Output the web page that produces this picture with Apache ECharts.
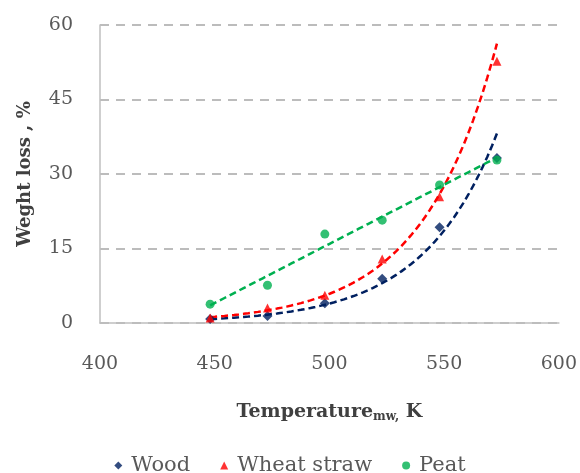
<!DOCTYPE html>
<html><head><meta charset="utf-8">
<script src="https://cdn.jsdelivr.net/npm/echarts@6/dist/echarts.min.js"></script>
<style>html,body{margin:0;padding:0;background:#fff}#c{width:580px;height:473px}</style>
</head><body><div id="c"></div>
<script>
const temps = [448, 473, 498, 523, 548, 573];
const wood = [0.8, 1.4, 4.0, 8.9, 19.3, 33.2];
const wheat = [1.0, 3.0, 5.6, 12.9, 25.4, 52.7];
const peat = [3.8, 7.6, 17.9, 20.7, 27.8, 32.8];
const xTicks = [400, 450, 500, 550, 600];
const yTicks = [0, 15, 30, 45, 60];

function linFit(xs, ys) {
  const n = xs.length;
  const mx = xs.reduce((a,b)=>a+b,0)/n, my = ys.reduce((a,b)=>a+b,0)/n;
  let sxy=0, sxx=0;
  for (let i=0;i<n;i++){sxy+=(xs[i]-mx)*(ys[i]-my);sxx+=(xs[i]-mx)**2;}
  const b = sxy/sxx; return {a: my-b*mx, b};
}
function trend(xs, ys, kind) {
  const lys = kind==='exp' ? ys.map(Math.log) : ys;
  const f = linFit(xs, lys);
  const out = [];
  const x0 = xs[0], x1 = xs[xs.length-1], N = 60;
  for (let i=0;i<=N;i++){
    const x = x0 + (x1-x0)*i/N;
    const v = f.a + f.b*x;
    out.push([x, kind==='exp' ? Math.exp(v) : v]);
  }
  return out;
}
const pts = arr => temps.map((t,i)=>[t, arr[i]]);

const C = {wood:'#002060', wheat:'#FF0000', peat:'#00B050'};
const font = 'DejaVu Serif';
const chart = echarts.init(document.getElementById('c'));
chart.setOption({
  animation:false,
  textStyle:{fontFamily:font},
  grid:{left:100, right:20, top:25, bottom:150},
  xAxis:{type:'value', min:xTicks[0], max:xTicks[xTicks.length-1], interval:50,
    axisLine:{show:true, lineStyle:{color:'#BFBFBF', width:1.5}},
    axisTick:{show:false}, splitLine:{show:false},
    axisLabel:{color:'#595959', fontSize:19, fontFamily:font, margin:32},
    name:'{b|Temperature}{s|mw,}{b| K}', nameLocation:'middle', nameGap:78,
    nameTextStyle:{rich:{b:{fontSize:19, fontWeight:'bold', color:'#404040', fontFamily:font},
      s:{fontSize:12, fontWeight:'bold', color:'#404040', fontFamily:font, padding:[10,0,0,0]}}}
  },
  yAxis:{type:'value', min:yTicks[0], max:yTicks[yTicks.length-1], interval:15,
    axisLine:{show:true, lineStyle:{color:'#BFBFBF', width:1.5}},
    axisTick:{show:false},
    splitLine:{show:true, lineStyle:{color:'#A6A6A6', width:1.5, type:[9,7]}},
    axisLabel:{color:'#595959', fontSize:19, fontFamily:font, margin:27},
    name:'Weght loss , %', nameLocation:'middle', nameGap:66,
    nameTextStyle:{fontSize:18, fontWeight:'bold', color:'#404040', fontFamily:font}
  },
  legend:{data:['Wood','Wheat straw','Peat'], top:450, left:'center', itemWidth:8, itemHeight:8, itemGap:30,
    textStyle:{fontSize:21, color:'#595959', fontFamily:font, padding:[0,0,0,4]}},
  series:[
    {name:'Wood trend', type:'line', data:trend(temps, wood, 'exp'), showSymbol:false, smooth:false,
      lineStyle:{color:C.wood, width:2.5, type:[7,4]}, z:2},
    {name:'Wheat trend', type:'line', data:trend(temps, wheat, 'exp'), showSymbol:false,
      lineStyle:{color:C.wheat, width:2.5, type:[7,4]}, z:2},
    {name:'Peat trend', type:'line', data:trend(temps, peat, 'lin'), showSymbol:false,
      lineStyle:{color:C.peat, width:2.5, type:[7,4]}, z:2},
    {name:'Wood', type:'scatter', data:pts(wood), symbol:'diamond', symbolSize:10, itemStyle:{color:C.wood}, z:3},
    {name:'Wheat straw', type:'scatter', data:pts(wheat), symbol:'triangle', symbolSize:9, itemStyle:{color:C.wheat}, z:3},
    {name:'Peat', type:'scatter', data:pts(peat), symbol:'circle', symbolSize:9, itemStyle:{color:C.peat}, z:3}
  ]
});
</script></body></html>
